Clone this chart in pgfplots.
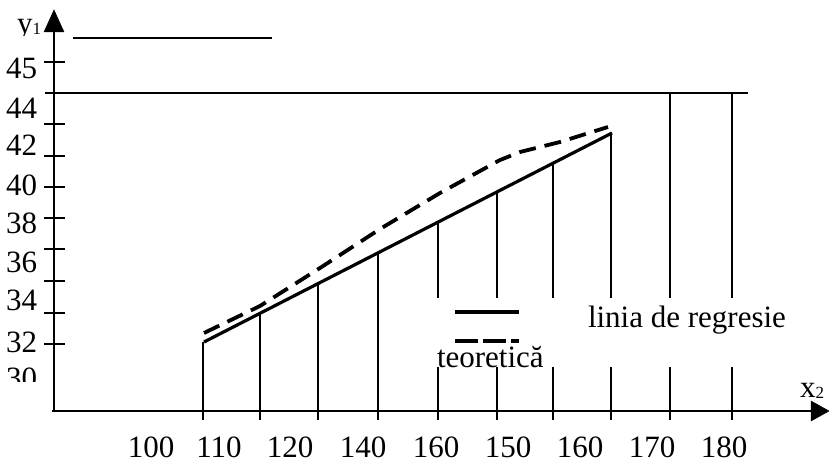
\documentclass[border=0pt]{standalone}
\usepackage{pgfplots}
\pgfplotsset{compat=1.18}
\usepackage{fontspec}
\setmainfont{Liberation Serif}
\tikzset{lab/.style={font=\fontsize{31}{36}\selectfont, inner sep=0pt, outer sep=0pt}}
\begin{document}
\begin{tikzpicture}
\begin{axis}[name=ax, scale only axis, width=829pt, height=459pt,
  xmin=0, xmax=829, ymin=0, ymax=459, axis lines=none, clip=false,
  unbounded coords=jump]
% vertical reference lines at the x ticks
\addplot[black, line width=1.7pt] coordinates {
 (203,117)(203,39) (nan,nan)
 (260,145)(260,39) (nan,nan)
 (318,175)(318,39) (nan,nan)
 (378,205)(378,39) (nan,nan)
 (438,236)(438,39) (nan,nan)
 (497,266)(497,39) (nan,nan)
 (553,294.5)(553,39) (nan,nan)
 (611,324)(611,39) (nan,nan)
 (670,366)(670,39) (nan,nan)
 (732,366)(732,39)};
% y ticks
\addplot[black, line width=2pt] coordinates {
 (44,397)(65,397) (nan,nan)
 (44,335)(65,335) (nan,nan)
 (44,303)(65,303) (nan,nan)
 (44,272)(65,272) (nan,nan)
 (44,241)(65,241) (nan,nan)
 (44,210)(65,210) (nan,nan)
 (44,178)(65,178) (nan,nan)
 (44,146)(65,146) (nan,nan)
 (44,115)(65,115)};
% horizontal lines
\addplot[black, line width=1.6pt] coordinates {(45,366)(748,366)};
\addplot[black, line width=1.6pt] coordinates {(73,421)(272,421)};
% axes
\addplot[black, line width=2.3pt] coordinates {(54,48)(54,428)};
\addplot[black, fill=black, line width=0.5pt] coordinates {(44,427)(64,427)(54,449)} -- cycle;
\addplot[black, line width=2pt] coordinates {(52,48)(813,48)};
\addplot[black, fill=black, line width=0.5pt] coordinates {(811,38)(811,58)(829,48)} -- cycle;
% regression line and theoretical line
\addplot[black, line width=3.2pt] coordinates {(204,117)(612,326)};
\addplot[black, line width=3.8pt, dash pattern=on 17pt off 9pt] coordinates {
 (204,126)(260,153)(320,191)(380,230)(440,266)(500,299)(520,307)(560,317)(608,332)};
% white mask behind the legend
\fill[white] (axis cs:420,92) rectangle (axis cs:829,161);
% legend
\addplot[black, line width=4pt] coordinates {(455,147)(519,147)};
\addplot[black, line width=4pt, dash pattern=on 23pt off 5pt] coordinates {(455,118)(519,118)};
\node[lab, anchor=base west] at (axis cs:588,132) {linia de regresie};
\node[lab, anchor=base west] at (axis cs:437,92) {teoretică};
% y labels
\node[lab, anchor=base east] at (axis cs:37,381) {45};
\node[lab, anchor=base east] at (axis cs:37,341) {44};
\node[lab, anchor=base east] at (axis cs:37,304) {42};
\node[lab, anchor=base east] at (axis cs:37,264) {40};
\node[lab, anchor=base east] at (axis cs:37,226) {38};
\node[lab, anchor=base east] at (axis cs:37,187) {36};
\node[lab, anchor=base east] at (axis cs:37,149) {34};
\node[lab, anchor=base east] at (axis cs:37,107) {32};
\node[lab, anchor=base east] at (axis cs:37,71) {30};
\fill[white] (axis cs:0,50) rectangle (axis cs:46,77.5);
% x labels
\node[lab, anchor=base] at (axis cs:151,2) {100};
\node[lab, anchor=base] at (axis cs:219,2) {110};
\node[lab, anchor=base] at (axis cs:290,2) {120};
\node[lab, anchor=base] at (axis cs:363,2) {140};
\node[lab, anchor=base] at (axis cs:436,2) {160};
\node[lab, anchor=base] at (axis cs:508,2) {150};
\node[lab, anchor=base] at (axis cs:580,2) {160};
\node[lab, anchor=base] at (axis cs:652,2) {170};
\node[lab, anchor=base] at (axis cs:724,2) {180};
% axis names
\node[lab, anchor=base west] at (axis cs:17,425) {y\raisebox{-1pt}{\fontsize{17}{17}\selectfont 1}};
\fill[white] (axis cs:10,409) rectangle (axis cs:42,422.5);
\node[lab, anchor=base west] at (axis cs:800,62) {x\raisebox{-1pt}{\fontsize{17}{17}\selectfont 2}};
\end{axis}
\pgfresetboundingbox
\path (ax.south west) rectangle (ax.north east);
\end{tikzpicture}
\end{document}
